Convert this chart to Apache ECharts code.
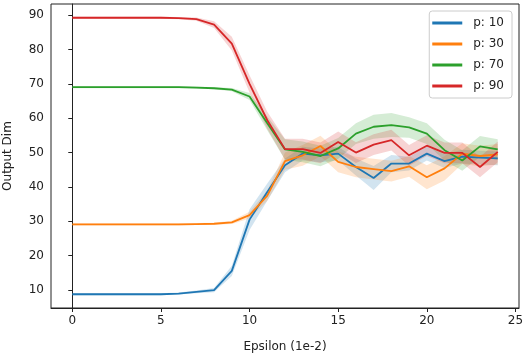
<!DOCTYPE html>
<html>
<head>
<meta charset="utf-8">
<script src="https://cdn.jsdelivr.net/npm/echarts@6/dist/echarts.min.js"></script>
<style>
  html, body { margin: 0; padding: 0; background: #fff; }
  #chart { width: 531px; height: 357px; }
</style>
</head>
<body>
<div id="chart"></div>
<script>
// epsilon steps (1e-2)
const epsilons = [0, 1, 2, 3, 4, 5, 6, 7, 8, 9, 10, 11, 12, 13, 14, 15, 16, 17, 18, 19, 20, 21, 22, 23, 24]
const xTicks = [0, 5, 10, 15, 20, 25]
const yTicks = [10, 20, 30, 40, 50, 60, 70, 80, 90]

const seriesNames = ['p: 10', 'p: 30', 'p: 70', 'p: 90']
const colors = ['#1f77b4', '#ff7f0e', '#2ca02c', '#d62728']

// mean output dim per p
const p10Mean = [8.8, 8.8, 8.8, 8.8, 8.8, 8.8, 9.0, 9.5, 10.0, 15.6, 30.5, 38.5, 46.3, 49.7, 49.2, 49.7, 45.8, 42.6, 46.8, 46.8, 49.7, 47.5, 48.8, 48.5, 48.3]
const p30Mean = [29.1, 29.1, 29.1, 29.1, 29.1, 29.1, 29.1, 29.2, 29.3, 29.7, 31.8, 37.5, 47.5, 49.2, 51.9, 47.3, 45.8, 45.2, 44.6, 46.0, 42.8, 45.4, 49.7, 49.0, 49.5]
const p70Mean = [69, 69, 69, 69, 69, 69, 69, 68.9, 68.7, 68.3, 66.3, 58.5, 50.9, 50.2, 49.0, 51.2, 55.5, 57.5, 58.0, 57.3, 55.5, 50.7, 47.7, 51.8, 50.9]
const p90Mean = [89.2, 89.2, 89.2, 89.2, 89.2, 89.2, 89.1, 88.8, 87.2, 81.7, 70.0, 59.4, 51.0, 51.0, 49.9, 53.1, 50.0, 52.3, 53.6, 49.2, 52.0, 49.9, 49.9, 45.8, 50.2]

// half width of shaded band
const p10Std = [0.3, 0.3, 0.3, 0.3, 0.3, 0.3, 0.3, 0.4, 0.6, 1.5, 3, 2.5, 2, 2, 2, 2, 2.5, 3.5, 2.5, 2, 2, 2, 2, 2, 2]
const p30Std = [0.3, 0.3, 0.3, 0.3, 0.3, 0.3, 0.3, 0.3, 0.3, 0.5, 1, 1.5, 2.5, 3, 3, 3, 3, 3, 3, 3, 3.5, 3.5, 3, 3, 3]
const p70Std = [0.3, 0.3, 0.3, 0.3, 0.3, 0.3, 0.3, 0.3, 0.3, 0.5, 1, 2, 3, 3, 3, 3, 3, 3.5, 3.5, 3, 3, 3, 3, 3, 3]
const p90Std = [0.3, 0.3, 0.3, 0.3, 0.3, 0.3, 0.3, 0.5, 1, 2, 2.5, 2.5, 3, 3, 3, 3, 3, 3, 3, 3, 3, 3, 3, 3, 3]

const means = [p10Mean, p30Mean, p70Mean, p90Mean]
const stds = [p10Std, p30Std, p70Std, p90Std]

const chart = echarts.init(document.getElementById('chart'))

let series = []
// shaded bands (mean +- std) as one polygon per series, drawn first
means.forEach((m, i) => {
  let rows = m.map((v, k) => [epsilons[k], v - stds[i][k], v + stds[i][k]])
  series.push({
    name: 'band' + i,
    type: 'custom',
    silent: true,
    data: rows,
    encode: { x: 0, y: [1, 2] },
    renderItem (params, api) {
      if (params.dataIndex !== 0) {
        return null
      }
      let upper = rows.map(r => api.coord([r[0], r[2]]))
      let lower = rows.map(r => api.coord([r[0], r[1]])).reverse()
      return {
        type: 'polygon',
        shape: { points: upper.concat(lower) },
        style: { fill: colors[i], opacity: 0.2 }
      }
    }
  })
})
means.forEach((m, i) => {
  series.push({
    name: seriesNames[i],
    type: 'line',
    data: m.map((v, k) => [epsilons[k], v]),
    symbol: 'none',
    color: colors[i],
    lineStyle: { color: colors[i], width: 1.8 }
  })
})

const labelFont = { fontFamily: 'DejaVu Sans', fontSize: 12, color: '#222' }

chart.setOption({
  animation: false,
  grid: {
    left: 51,
    right: 12,
    top: 4,
    bottom: 49,
    containLabel: false,
    outerBoundsMode: 'none',
    show: true,
    borderColor: '#222',
    borderWidth: 1
  },
  legend: {
    data: seriesNames,
    orient: 'vertical',
    right: 19,
    top: 11,
    itemWidth: 30,
    itemHeight: 3,
    itemGap: 9,
    icon: 'rect',
    padding: [6, 8, 6, 3],
    borderColor: '#ccc',
    borderWidth: 1,
    borderRadius: 3,
    backgroundColor: 'rgba(255,255,255,0.8)',
    textStyle: { ...labelFont, padding: [0, 0, 0, 6] }
  },
  xAxis: {
    type: 'value',
    min: -1.2,
    max: 25.2,
    name: 'Epsilon (1e-2)',
    nameLocation: 'middle',
    nameGap: 33,
    nameTextStyle: labelFont,
    splitLine: { show: false },
    axisLine: { lineStyle: { color: '#222' } },
    axisTick: { customValues: xTicks, length: 4, lineStyle: { color: '#222' } },
    axisLabel: { customValues: xTicks, margin: 7, ...labelFont }
  },
  yAxis: {
    type: 'value',
    min: 4.8,
    max: 93.2,
    name: 'Output Dim',
    nameLocation: 'middle',
    nameGap: 37,
    nameTextStyle: labelFont,
    splitLine: { show: false },
    axisLine: { show: true, lineStyle: { color: '#222' } },
    axisTick: { show: true, customValues: yTicks, length: 4, lineStyle: { color: '#222' } },
    axisLabel: { customValues: yTicks, margin: 7, ...labelFont }
  },
  series: series
})
</script>
</body>
</html>
